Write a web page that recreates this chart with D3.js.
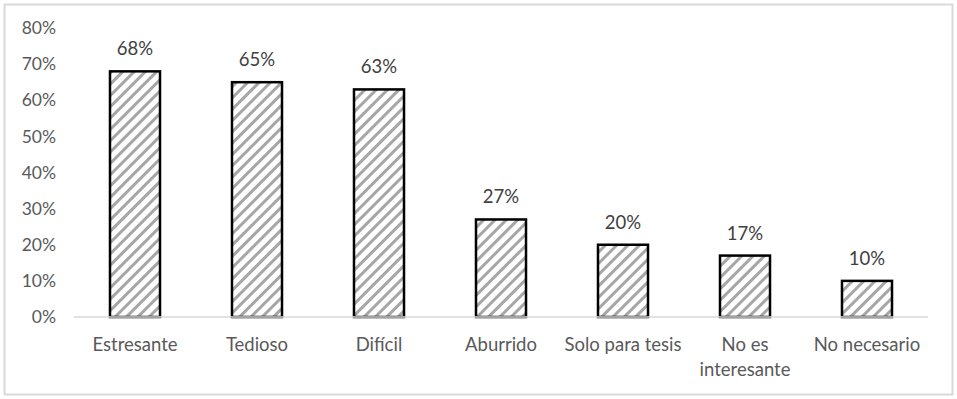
<!DOCTYPE html>
<html><head><meta charset="utf-8">
<script src="https://cdn.jsdelivr.net/npm/d3@7"></script>
<style>body{margin:0;background:#fff}svg{display:block}</style>
</head><body>
<script>
const categories = ["Estresante","Tedioso","Difícil","Aburrido","Solo para tesis","No es interesante","No necesario"];
const values = [68,65,63,27,20,17,10];
const yTicks = [0,10,20,30,40,50,60,70,80];

const W=957,H=399;
const svg=d3.select("body").append("svg").attr("width",W).attr("height",H);
const defs=svg.append("defs");
const pat=defs.append("pattern").attr("id","hatch").attr("patternUnits","userSpaceOnUse")
  .attr("width",8).attr("height",8).attr("patternTransform","rotate(45)");
pat.append("rect").attr("width",8).attr("height",8).attr("fill","#fff");
pat.append("line").attr("x1",0).attr("y1",0).attr("x2",0).attr("y2",8)
  .attr("stroke","#a6a6a6").attr("stroke-width",6);

svg.append("rect").attr("x",4.5).attr("y",4.5).attr("width",948).attr("height",390)
  .attr("fill","none").attr("stroke","#d9d9d9").attr("stroke-width",2);

const font="Lato, 'Open Sans', sans-serif";
const x=d3.scaleBand().domain(categories).range([74,928]).paddingInner(0.59).paddingOuter(0.295);
const y=d3.scaleLinear().domain([0,80]).range([317,28]);

svg.append("g").selectAll("text").data(yTicks).join("text")
  .attr("x",56).attr("y",d=>y(d)).attr("dy","0.35em").attr("text-anchor","end")
  .attr("font-family",font).attr("font-size",17.5).attr("fill","#595959")
  .text(d=>d+"%");

svg.append("g").selectAll("rect").data(values).join("rect")
  .attr("x",(d,i)=>x(categories[i])).attr("y",d=>y(d))
  .attr("width",x.bandwidth()).attr("height",d=>y(0)-y(d))
  .attr("fill","url(#hatch)").attr("stroke","#000").attr("stroke-width",2.5);

svg.append("line").attr("x1",74).attr("x2",928).attr("y1",y(0)).attr("y2",y(0))
  .attr("stroke","#d9d9d9").attr("stroke-width",1.5);

svg.append("g").selectAll("text").data(values).join("text")
  .attr("x",(d,i)=>x(categories[i])+x.bandwidth()/2).attr("y",d=>y(d)-16)
  .attr("text-anchor","middle").attr("font-family",font).attr("font-size",18.5).attr("fill","#404040")
  .text(d=>d+"%");

const catLines={"No es interesante":["No es","interesante"]};
const cg=svg.append("g").selectAll("text").data(categories).join("text")
  .attr("x",d=>x(d)+x.bandwidth()/2).attr("y",351)
  .attr("text-anchor","middle").attr("font-family",font).attr("font-size",18.5).attr("fill","#595959");
cg.each(function(d){
  const lines=catLines[d]||[d];
  d3.select(this).selectAll("tspan").data(lines).join("tspan")
    .attr("x",x(d)+x.bandwidth()/2).attr("dy",(l,i)=>i===0?0:25).text(l=>l);
});
</script>
</body></html>
